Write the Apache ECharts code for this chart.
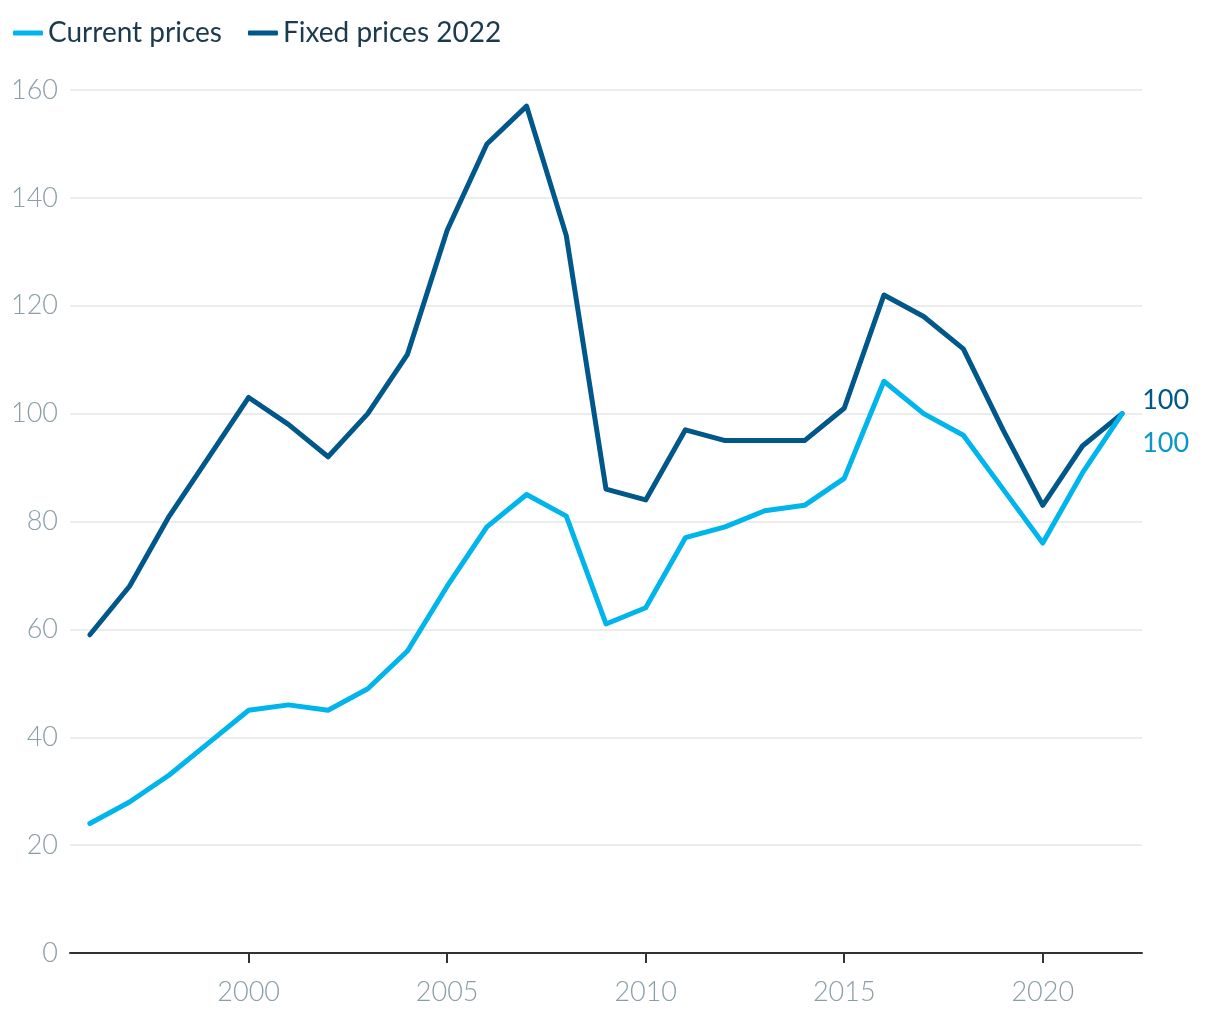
<!DOCTYPE html>
<html><head><meta charset="utf-8">
<script src="https://cdn.jsdelivr.net/npm/echarts@6/dist/echarts.min.js"></script>
<style>html,body{margin:0;padding:0;background:#fff}#c{width:1220px;height:1020px}</style>
</head><body><div id="c"></div>
<script>
const years = ['1996','1997','1998','1999','2000','2001','2002','2003','2004','2005','2006','2007','2008','2009','2010','2011','2012','2013','2014','2015','2016','2017','2018','2019','2020','2021','2022'];
const currentPrices = [24,28,33,39,45,46,45,49,56,68,79,85,81,61,64,77,79,82,83,88,106,100,96,86,76,89,100];
const fixedPrices = [59,68,81,92,103,98,92,100,111,134,150,157,133,86,84,97,95,95,95,101,122,118,112,97,83,94,100];
const yTicks = {min:0, max:160, interval:20};

const chart = echarts.init(document.getElementById('c'));
const lightC = '#00b5eb', darkC = '#00578a';
chart.setOption({
  animation:false,
  textStyle:{fontFamily:'Lato'},
  legend:{left:8, top:14, itemWidth:30, itemHeight:5, itemGap:26, icon:'roundRect',
    textStyle:{fontSize:28, color:'#1b3a4b', fontFamily:'Lato'},
    data:['Current prices','Fixed prices 2022']},
  grid:{left:70, right:78, top:90, bottom:67},
  xAxis:{type:'category', data:years, boundaryGap:true,
    axisLine:{lineStyle:{color:'#333', width:2}},
    axisTick:{show:true, alignWithLabel:true, length:10, lineStyle:{color:'#333', width:2}, interval:(i,v)=>(+v)%5===0},
    axisLabel:{interval:(i,v)=>(+v)%5===0, fontSize:27, fontWeight:300, color:'#8a9ea7', margin:26, fontFamily:'Lato'},
    splitLine:{show:false}},
  yAxis:{type:'value', min:yTicks.min, max:yTicks.max, interval:yTicks.interval,
    axisLine:{show:false}, axisTick:{show:false},
    axisLabel:{fontSize:27, fontWeight:300, color:'#8a9ea7', margin:12, fontFamily:'Lato'},
    splitLine:{lineStyle:{color:'#e6e6e6', width:1.5}}},
  series:[
    {name:'Current prices', type:'line', data:currentPrices, symbol:'none', z:3,
      lineStyle:{color:lightC, width:5, cap:'round', join:'round'}, itemStyle:{color:lightC},
      endLabel:{show:true, formatter:p=>p.value, distance:20, offset:[0,30], fontSize:27, color:'#0a96c8', fontFamily:'Lato'}},
    {name:'Fixed prices 2022', type:'line', data:fixedPrices, symbol:'none', z:2,
      lineStyle:{color:darkC, width:5, cap:'round', join:'round'}, itemStyle:{color:darkC},
      endLabel:{show:true, formatter:p=>p.value, distance:20, offset:[0,-13], fontSize:27, color:'#00578a', fontFamily:'Lato'}}
  ]
});
</script></body></html>
